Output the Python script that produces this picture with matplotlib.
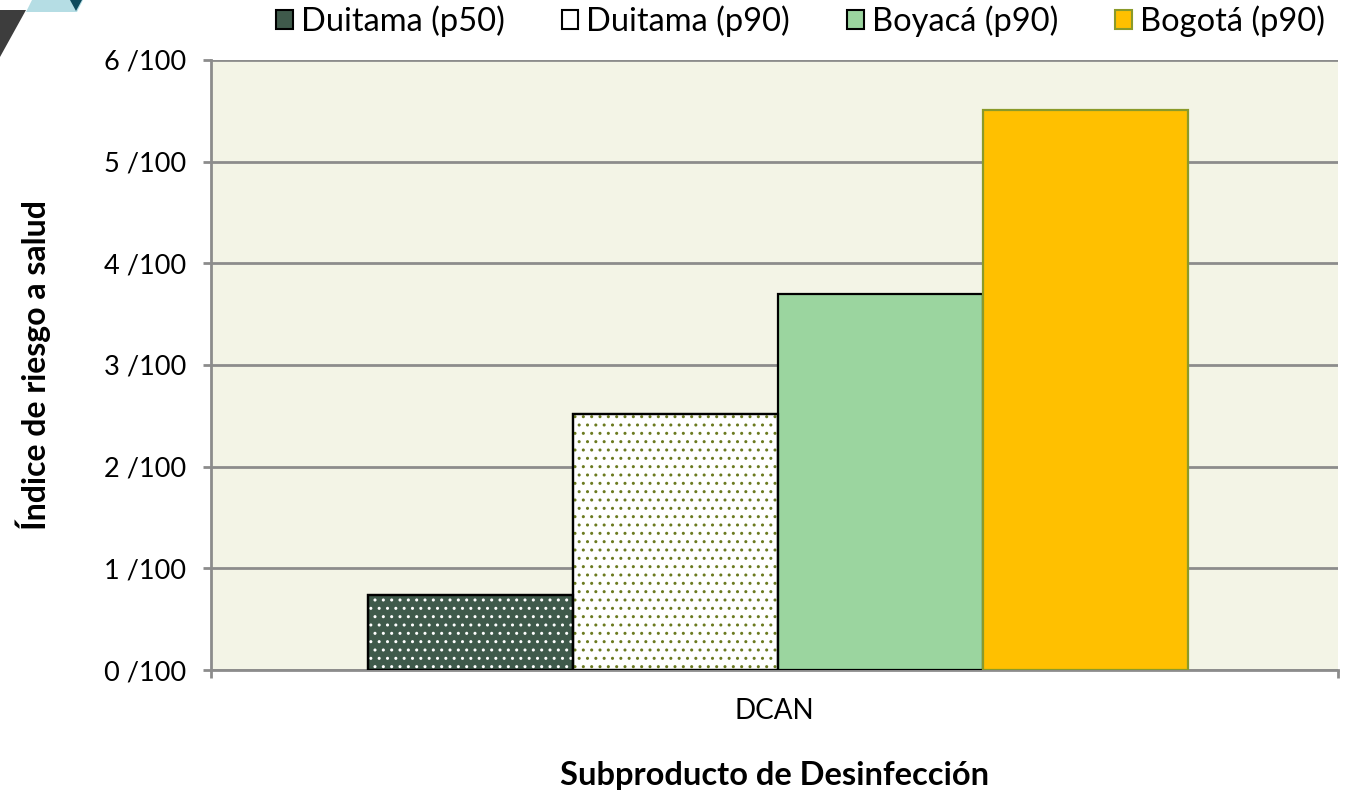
import matplotlib
matplotlib.use("Agg")
import matplotlib.pyplot as plt
from matplotlib.patches import Polygon, Patch
import numpy as np

plt.rcParams['font.family'] = ['Lato', 'DejaVu Sans']

category = ["DCAN"]
series = ["Duitama (p50)", "Duitama (p90)", "Boyacá (p90)", "Bogotá (p90)"]
values = [0.0074, 0.0252, 0.0370, 0.0551]
y_ticks = [0, 0.01, 0.02, 0.03, 0.04, 0.05, 0.06]
y_tick_labels = ["0 /100", "1 /100", "2 /100", "3 /100", "4 /100", "5 /100", "6 /100"]

face_colors = ["#3f5a4b", "#ffffff", "#9bd59f", "#ffc000"]
edge_colors = ["#000000", "#000000", "#000000", "#8a9a2a"]
hatch_colors = ["#ffffff", "#6b7a1f", None, None]

fig = plt.figure(figsize=(13.46, 7.93), dpi=100)
ax = fig.add_axes([211/1346, 1-670/793, (1338-211)/1346, (670-60)/793])
ax.set_facecolor("#f3f4e6")

plt.rcParams['hatch.linewidth'] = 1.0
n = len(series)
bw = 0.182
offsets = (np.arange(n) - (n-1)/2) * bw + 0.003
for i in range(n):
    x = 0.5 + offsets[i]
    ax.bar(x, values[i], width=bw, color=face_colors[i], edgecolor=edge_colors[i],
           linewidth=1.6, zorder=3)
    if hatch_colors[i]:
        ax.bar(x, values[i], width=bw, color="none", edgecolor=hatch_colors[i],
               hatch="..", linewidth=0, zorder=3.5)
        ax.bar(x, values[i], width=bw, color="none", edgecolor=edge_colors[i],
               linewidth=1.6, zorder=4)

ax.set_xlim(0, 1)
ax.set_ylim(0, 0.06)
ax.set_yticks(y_ticks)
ax.set_yticklabels(y_tick_labels, fontsize=19.5)
ax.yaxis.grid(True, color="#8c8c8c", linewidth=2, zorder=1)
ax.set_axisbelow(True)
ax.set_xticks([0.5])
ax.set_xticklabels(category, fontsize=20)
ax.set_xticks([0, 1], minor=True)
ax.tick_params(axis='x', which='major', length=0, pad=20)
ax.tick_params(axis='x', which='minor', length=6, width=2, color="#8c8c8c")
ax.tick_params(axis='y', length=6, width=2, color="#8c8c8c", pad=12)
for s in ['top', 'right']:
    ax.spines[s].set_visible(False)
for s in ['left', 'bottom']:
    ax.spines[s].set_color("#8c8c8c")
    ax.spines[s].set_linewidth(2)

ax.set_ylabel("Índice de riesgo a salud", fontsize=23, fontweight='bold', labelpad=38)
ax.set_xlabel("Subproducto de Desinfección", fontsize=23.5, fontweight='bold', labelpad=27)

handles = []
for i in range(n):
    handles.append(Patch(facecolor=face_colors[i], edgecolor=edge_colors[i], linewidth=1.5,
                         label=series[i]))
leg = fig.legend(handles=handles, loc='upper right', bbox_to_anchor=(1.006, 1.03), ncol=4,
                 frameon=False, fontsize=23.5, handlelength=0.5, handleheight=0.5,
                 handletextpad=0.25, columnspacing=1.75)

# decorative corner shapes
fig.patches.append(Polygon([[0, 1-10/793], [26/1346, 1-10/793], [0, 1-57/793]], closed=True,
                           transform=fig.transFigure, facecolor="#3d3d3d", edgecolor="none"))
fig.patches.append(Polygon([[32/1346, 1], [83/1346, 1], [77/1346, 1-12/793], [26/1346, 1-12/793]],
                           closed=True, transform=fig.transFigure, facecolor="#b5dde4", edgecolor="none"))
fig.patches.append(Polygon([[70/1346, 1], [82/1346, 1], [76/1346, 1-11/793]], closed=True,
                           transform=fig.transFigure, facecolor="#0d4a5c", edgecolor="none"))

fig.savefig("out.png", dpi=100)
